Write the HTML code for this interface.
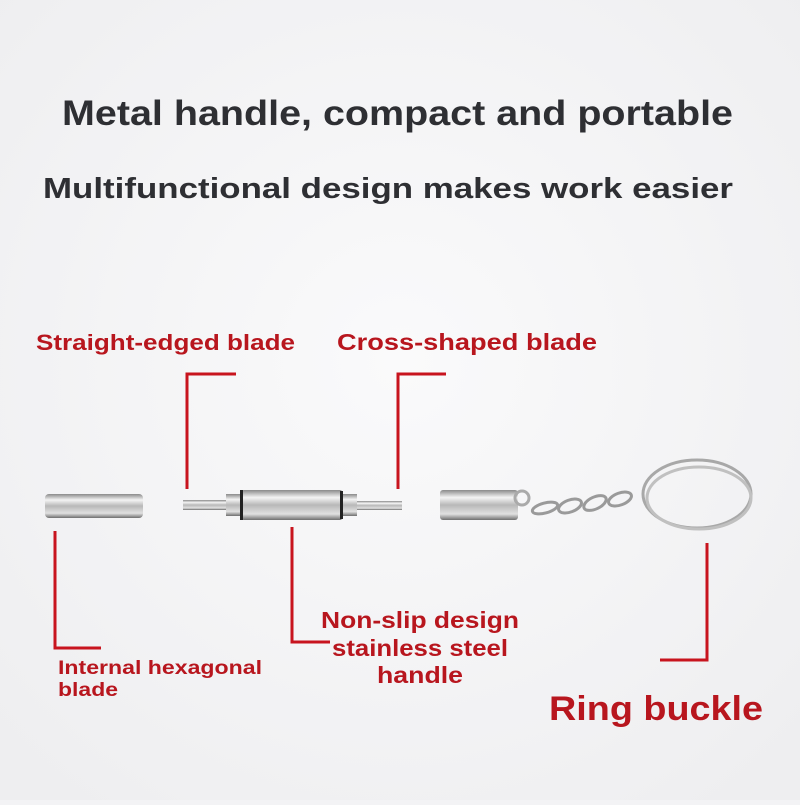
<!DOCTYPE html>
<html><head><style>body{margin:0;background:#f3f3f5}</style></head><body>
<svg width="800" height="800" viewBox="0 0 800 800" xmlns="http://www.w3.org/2000/svg">
<defs>
<radialGradient id="bg" cx="50%" cy="45%" r="70%"><stop offset="0" stop-color="#fafafb"/><stop offset="1" stop-color="#eeeef0"/></radialGradient>
<linearGradient id="met" x1="0" y1="0" x2="0" y2="1"><stop offset="0" stop-color="#8a8a8a"/><stop offset="0.25" stop-color="#f4f4f4"/><stop offset="0.5" stop-color="#b8b8b8"/><stop offset="0.8" stop-color="#e0e0e0"/><stop offset="1" stop-color="#6e6e6e"/></linearGradient>
</defs>
<rect width="800" height="800" fill="url(#bg)"/>
<g font-family="Liberation Sans, sans-serif" font-weight="bold">
<text x="62" y="125" font-size="35" fill="#2e2f33" textLength="671" lengthAdjust="spacingAndGlyphs">Metal handle, compact and portable</text>
<text x="43" y="198" font-size="29" fill="#2e2f33" textLength="690" lengthAdjust="spacingAndGlyphs">Multifunctional design makes work easier</text>
<g fill="#b8161e">
<text x="36" y="350" font-size="22" textLength="259" lengthAdjust="spacingAndGlyphs">Straight-edged blade</text>
<text x="337" y="350" font-size="23" textLength="260" lengthAdjust="spacingAndGlyphs">Cross-shaped blade</text>
<text x="58" y="674" font-size="19" textLength="204" lengthAdjust="spacingAndGlyphs">Internal hexagonal</text>
<text x="58" y="696" font-size="19" textLength="60" lengthAdjust="spacingAndGlyphs">blade</text>
<text x="321" y="628" font-size="23" textLength="198" lengthAdjust="spacingAndGlyphs">Non-slip design</text>
<text x="332" y="656" font-size="23" textLength="176" lengthAdjust="spacingAndGlyphs">stainless steel</text>
<text x="377" y="683" font-size="23" textLength="86" lengthAdjust="spacingAndGlyphs">handle</text>
<text x="549" y="720" font-size="34" textLength="214" lengthAdjust="spacingAndGlyphs">Ring buckle</text>
</g></g>
<g stroke="#c8141e" stroke-width="3" fill="none">
<path d="M187 489V374H236"/>
<path d="M398 489V374H446"/>
<path d="M55 531V648H101"/>
<path d="M292 527V642H330"/>
<path d="M707 543V660H660"/>
</g>
<rect x="45" y="494" width="98" height="24" rx="4" fill="url(#met)"/>
<rect x="183" y="500" width="50" height="10" fill="url(#met)"/>
<rect x="355" y="501" width="47" height="9" fill="url(#met)"/>
<rect x="226" y="494" width="16" height="22" fill="url(#met)"/>
<rect x="242" y="490" width="100" height="30" rx="2" fill="url(#met)"/>
<rect x="240" y="490" width="3" height="30" fill="#222"/>
<rect x="340" y="491" width="3" height="28" fill="#222"/>
<rect x="343" y="494" width="14" height="22" fill="url(#met)"/>
<rect x="440" y="490" width="78" height="30" rx="3" fill="url(#met)"/>
<circle cx="522" cy="498" r="7" fill="none" stroke="#aaa" stroke-width="3"/>
<g fill="none" stroke="#9a9a9a" stroke-width="3">
<ellipse cx="545" cy="508" rx="13" ry="5" transform="rotate(-15 545 508)"/>
<ellipse cx="570" cy="506" rx="12" ry="6" transform="rotate(-20 570 506)"/>
<ellipse cx="595" cy="503" rx="12" ry="6" transform="rotate(-25 595 503)"/>
<ellipse cx="620" cy="499" rx="12" ry="6" transform="rotate(-20 620 499)"/>
<ellipse cx="697" cy="494" rx="54" ry="34" stroke="#a8a8a8"/>
<ellipse cx="699" cy="498" rx="52" ry="31" stroke="#c0c0c0"/>
</g>
</svg>
</body></html>
